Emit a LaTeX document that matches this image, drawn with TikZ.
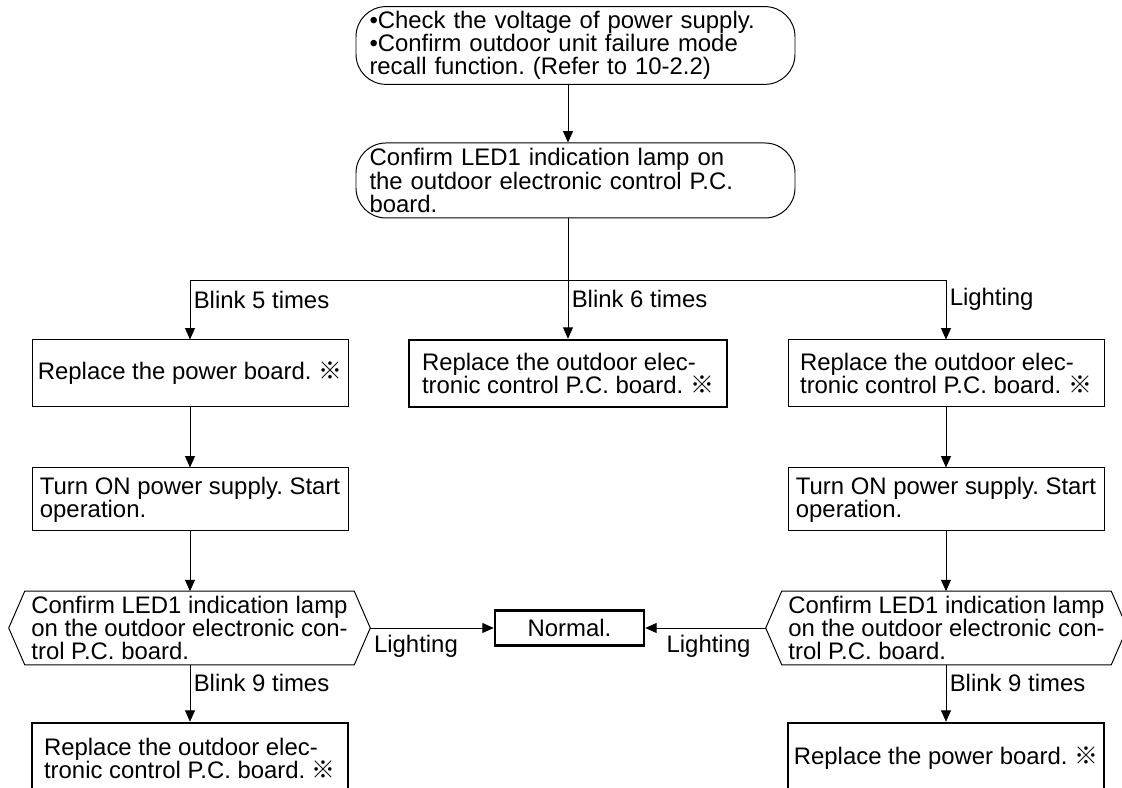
\documentclass[tikz,border=0pt]{standalone}
\usepackage{fontspec}
\setmainfont{Liberation Sans}
\newfontfamily\cjk{Noto Sans CJK JP}
\usetikzlibrary{positioning, arrows.meta, calc}
\newcommand{\refmark}{{\cjk ※}}
\frenchspacing

\begin{document}
\begin{tikzpicture}[
          font=\fontsize{17}{16.4}\selectfont,
          term/.style={draw, line width=0.7pt, rounded corners=0.75cm,
                       text width=10.3cm, inner xsep=0.3375cm, align=left,
                       minimum height=1.875cm},
          proc/.style={draw, line width=0.7pt, minimum width=7.9cm,
                       inner xsep=0pt, align=left, minimum height=1.675cm},
          check/.style={minimum width=9.025cm, minimum height=1.8cm,
                        inner xsep=0pt, align=left},
          final/.style={line width=1.8pt},
          arr/.style={-{Triangle[length=8pt,width=7pt]}, line width=0.6pt},
          lbl/.style={inner sep=2.4pt, anchor=west}
        ]
        \useasboundingbox (0,0) rectangle (28.05,19.7);

        % Start
        \node[term] (t1) at (14.3875,18.5625)
              {•Check the voltage of power supply.\\•Confirm outdoor unit failure mode\\recall function. (Refer to 10-2.2)};
        \node[term] (t2) at (14.3875,15.1875)
              {Confirm LED1 indication lamp on\\the outdoor electronic control P.C.\\board.};

        % First branch
        \node[proc] (b5) at (4.75,10.3625)
              {Replace the power board. \refmark};
        \node[proc, final, minimum width=7.95cm] (b6) at (14.2,10.3625)
              {Replace the outdoor elec-\\tronic control P.C. board. \refmark};
        \node[proc] (bl) at (23.65,10.3625)
              {Replace the outdoor elec-\\tronic control P.C. board. \refmark};

        \node[proc, minimum height=1.575cm] (on1) at (4.75,7.2125)
              {Turn ON power supply. Start\\operation.};
        \node[proc, minimum height=1.575cm] (on2) at (23.65,7.2125)
              {Turn ON power supply. Start\\operation.};

        % LED check again
        \node[check] (c1) at (4.7375,4.0)
              {Confirm LED1 indication lamp\\on the outdoor electronic con-\\trol P.C. board.};
        \node[check] (c2) at (23.6625,4.0)
              {Confirm LED1 indication lamp\\on the outdoor electronic con-\\trol P.C. board.};
        \foreach \h in {c1,c2}
          \draw[line width=0.7pt] (\h.west) -- ([xshift=0.4cm]\h.north west)
                -- ([xshift=-0.4cm]\h.north east) -- (\h.east)
                -- ([xshift=-0.4cm]\h.south east) -- ([xshift=0.4cm]\h.south west) -- cycle;

        \node[draw, final, minimum width=3.725cm, minimum height=0.875cm] (ok)
              at (14.2375,4.0) {Normal.};

        % Results
        \node[proc, final, minimum height=1.75cm] (r1) at (4.75,0.75)
              {Replace the outdoor elec-\\tronic control P.C. board. \refmark};
        \node[proc, final, minimum height=1.75cm] (r2) at (23.65,0.75)
              {Replace the power board. \refmark};

        % Connectors
        \coordinate (jl) at (4.75,12.7);
        \coordinate (jr) at (23.65,12.7);
        \draw[arr] (t1.south -| b6) -- (t2.north -| b6);
        \draw[line width=0.6pt] (jl) -- (jr);
        \draw[arr] (t2.south -| b6) -- node[lbl, pos=0.67] {Blink 6 times} (b6.north);
        \draw[arr] (jl) -- node[lbl, pos=0.33] {Blink 5 times} (b5.north);
        \draw[arr] (jr) -- node[lbl, pos=0.33] {Lighting} (bl.north);
        \draw[arr] (b5) -- (on1);
        \draw[arr] (bl) -- (on2);
        \draw[arr] (on1) -- (c1.north -| on1);
        \draw[arr] (on2) -- (c2.north -| on2);
        \draw[arr] (c1.east) -- node[below, inner sep=5pt, pos=0.37] {Lighting} (ok.west);
        \draw[arr] (c2.west) -- node[below, inner sep=5pt, pos=0.475] {Lighting} (ok.east);
        \draw[arr] (c1.south -| r1) -- node[lbl, pos=0.32] {Blink 9 times} (r1.north);
        \draw[arr] (c2.south -| r2) -- node[lbl, pos=0.32] {Blink 9 times} (r2.north);
      \end{tikzpicture}
\end{document}
